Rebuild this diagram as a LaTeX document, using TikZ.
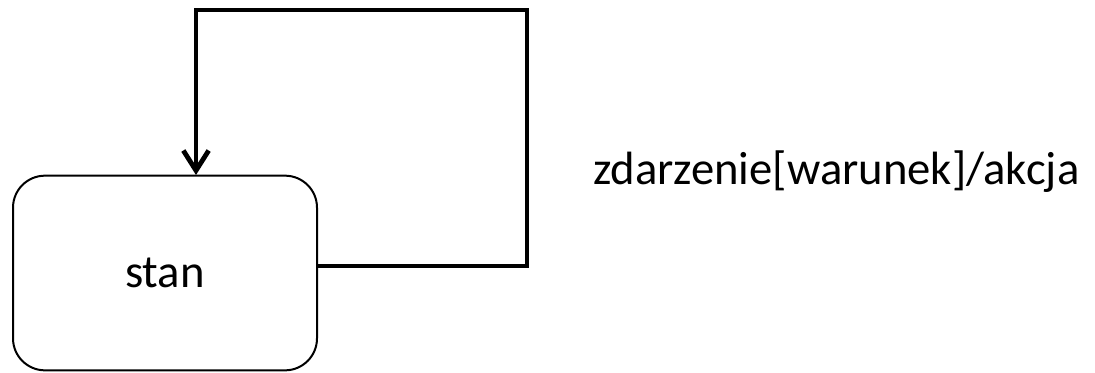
\documentclass[tikz,border=0pt]{standalone}
\usepackage{fontspec}
\setmainfont{Carlito}
\usetikzlibrary{arrows.meta,positioning}

\begin{document}
\begin{tikzpicture}[x=0.75pt,y=-0.75pt, state/.style={draw,line width=1.5pt,rounded corners=24pt,minimum width=228pt,minimum height=146pt,font=\fontsize{35}{42}\selectfont}, lbl/.style={font=\fontsize{35}{42}\selectfont,anchor=base west,inner sep=0pt}, flow/.style={line width=3.6pt}, >={Straight Barb[length=15pt,width=19pt,line width=3.6pt]}]
\useasboundingbox (0,0) rectangle (1095,372);
\node[state] (S) at (165,273) {stan};
\coordinate (out) at (317,266);
\coordinate (top) at (527,10);
\coordinate (in) at (196,175);
\draw[flow,->] (out) -| (top) -| (in);
\node[lbl] (L) at (593,184) {zdarzenie[warunek]/akcja};
\end{tikzpicture}
\end{document}
